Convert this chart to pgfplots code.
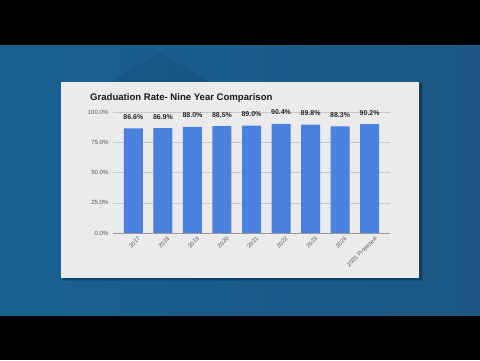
\documentclass[border=0pt]{standalone}
\usepackage{pgfplots}
\pgfplotsset{compat=1.18}
\usepackage{fontspec}
\setmainfont{Liberation Sans}
\definecolor{bgblue}{HTML}{1A6192}
\definecolor{bgblue2}{HTML}{1B5782}
\definecolor{panel}{HTML}{EBEBEB}
\definecolor{barblue}{HTML}{4A80DE}
\definecolor{gridc}{HTML}{C8C8C8}
\definecolor{tickc}{HTML}{555555}
\begin{document}
\begin{tikzpicture}[x=1bp,y=1bp]
% frame
\fill[black] (0,0) rectangle (480,360);
\shade[left color=bgblue, right color=bgblue2] (0,45) rectangle (480,315);
\fill[black,opacity=0.07] (110,278) -- (160,307) -- (210,278) -- cycle;
% panel shadow
\fill[black,opacity=0.18] (63,80) rectangle (422,277);
\fill[black,opacity=0.12] (62,79) rectangle (423,278);
\fill[panel] (61,82) rectangle (419,278.3);
% title
\node[anchor=base west,inner sep=0pt,font=\bfseries\fontsize{9.6}{11}\selectfont,text=black!90] at (90,260) {Graduation Rate- Nine Year Comparison};
\begin{axis}[
  at={(113bp,127bp)}, anchor=south west,
  scale only axis, width=277bp, height=120.7bp,
  xmin=-0.69, xmax=8.69, ymin=0, ymax=100,
  axis line style={draw=none},
  ytick={0,25,50,75,100},
  yticklabels={0.0\%,25.0\%,50.0\%,75.0\%,100.0\%},
  ymajorgrids, grid style={gridc, line width=0.6pt},
  xtick={0,...,8},
  xticklabels={2017,2018,2019,2020,2021,2022,2023,2024,2025 Projected},
  major tick length=0pt,
  yticklabel style={font=\fontsize{6.1}{7}\selectfont, text=tickc, xshift=-1bp},
  xticklabel style={font=\fontsize{5.8}{7}\selectfont, text=tickc, rotate=45, anchor=north east, xshift=4bp, yshift=-2bp},
  tick label style={/pgf/number format/assume math mode=true},
  clip=false,
]
\addplot[ybar, bar width=19bp, fill=barblue, draw=none,
  nodes near coords={\pgfmathprintnumber[fixed,fixed zerofill,precision=1,assume math mode=true]{\pgfplotspointmeta}\%},
  every node near coord/.append style={font=\bfseries\fontsize{7}{8}\selectfont, text=black!85, anchor=base, yshift=9bp, inner sep=0pt},
] coordinates {
(0,86.6) (1,86.9) (2,88.0) (3,88.5) (4,89.0) (5,90.4) (6,89.8) (7,88.3) (8,90.2)
};
\draw[gray!80, line width=0.8pt] (axis cs:-0.69,0) -- (axis cs:8.69,0);
\end{axis}
\end{tikzpicture}
\end{document}
